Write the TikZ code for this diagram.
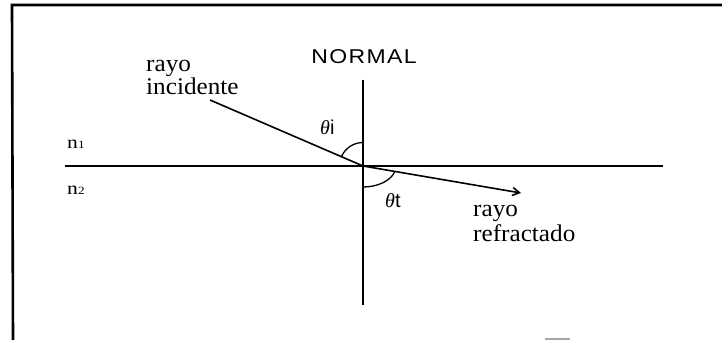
\documentclass[tikz,border=0pt]{standalone}
\usepackage{fontspec}
\setmainfont{Liberation Serif}
\newfontfamily\arialf[LetterSpace=6]{Liberation Sans}
\newfontfamily\sansf{Liberation Sans}
\usetikzlibrary{arrows.meta}
\tikzset{
  lbl/.style={inner sep=0pt, anchor=base west, font=\fontsize{24}{26}\selectfont, xscale=1.05},
  nlbl/.style={inner sep=0pt, anchor=base west, font=\fontsize{18}{20}\selectfont, xscale=1.2},
  ang/.style={inner sep=0pt, anchor=base west, font=\fontsize{20}{22}\selectfont},
  thick line/.style={line width=2.4pt},
  frame line/.style={line width=2.6pt},
  ray/.style={line width=1.6pt},
}
\begin{document}
\begin{tikzpicture}[x=1pt,y=1pt]
\useasboundingbox (0,0) rectangle (722,340);
% frame
\coordinate (fl) at (12,335);
\coordinate (fr) at (722,335);
\coordinate (fb) at (13,0);
\draw[frame line] (fr) -- (fl) -- (fb);
\coordinate (g1) at (545,1.5);
\coordinate (g2) at (570,1.5);
\draw[gray!70, line width=2pt] (g1) -- (g2);
% geometry
\coordinate (O) at (363,174);
\coordinate (nt) at (363,260);
\coordinate (nb) at (363,35);
\coordinate (il) at (65,174);
\coordinate (ir) at (663,174);
\coordinate (A) at (210,240);
\coordinate (B) at (521,147);
\draw[thick line] (il) -- (ir);
\draw[thick line] (nt) -- (nb);
\draw[ray] (A) -- (O);
\draw[ray, -{Straight Barb[length=7pt,width=8pt]}] (O) -- (B);
% angle arcs
\draw[line width=1.3pt] ([shift={(0,23.5)}]O) arc[start angle=90, end angle=156, radius=23.5];
\draw[line width=1.3pt] ([shift={(0,-21)}]O) arc[start angle=270, end angle=346, x radius=33, y radius=21];
% labels
\node[inner sep=0pt, anchor=base, xscale=1.15, font=\arialf\fontsize{20}{22}\selectfont] (normal) at (364,276) {NORMAL};
\node[lbl] (ri1) at (146,268) {rayo};
\node[lbl] (ri2) at (146,245) {incidente};
\node[lbl] (rr1) at (473,123) {rayo};
\node[lbl] (rr2) at (473,98) {refractado};
\node[nlbl] (n1) at (67,191) {n{\fontsize{11}{12}\selectfont 1}};
\node[nlbl] (n2) at (67,145) {n{\fontsize{11}{12}\selectfont 2}};
\node[ang] (ti) at (320,205) {\itshape θ\upshape\sansf i};
\node[ang] (tt) at (385,132) {\itshape θ\upshape\sansf t};
\end{tikzpicture}
\end{document}
